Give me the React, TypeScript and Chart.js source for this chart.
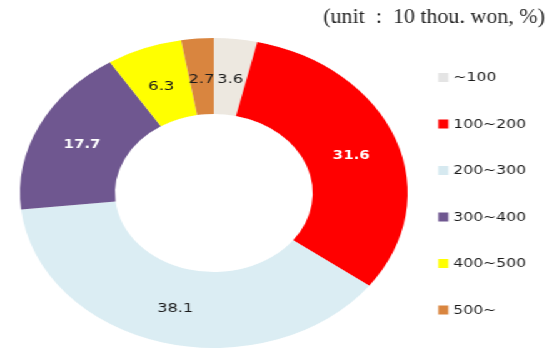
import React, { useEffect, useRef } from "react";
import { Chart, registerables } from "chart.js";

Chart.register(...registerables);

const categories = ["~100", "100~200", "200~300", "300~400", "400~500", "500~"];
const shares = [3.6, 31.6, 38.1, 17.7, 6.3, 2.7];
const sliceColors = ["#EDE8E0", "#FF0000", "#DBEDF3", "#6F5790", "#FFFF00", "#D9853F"];
const legendColors = ["#E4E4E4", "#FF0000", "#D6E9F0", "#6F5790", "#FFFF00", "#D9853F"];
const labelColors = ["#1a1a1a", "#ffffff", "#1a1a1a", "#ffffff", "#1a1a1a", "#1a1a1a"];
const labelBold = [false, true, false, true, false, false];
const unitText = "(unit  :  10 thou. won, %)";

const W = 443;
const H = 357;
const SX = 554 / W;

const overlay = {
  id: "overlay",
  afterDatasetsDraw(chart: any) {
    const ctx = chart.ctx as CanvasRenderingContext2D;
    ctx.save();
    ctx.textAlign = "center";
    ctx.textBaseline = "middle";
    const meta = chart.getDatasetMeta(0);
    meta.data.forEach((arc: any, i: number) => {
      const p = arc.tooltipPosition(false);
      ctx.font = (labelBold[i] ? "bold 12px" : "13px") + " 'DejaVu Sans'";
      ctx.fillStyle = labelColors[i];
      ctx.fillText(shares[i].toFixed(1), p.x, p.y + 3);
    });
    // legend
    ctx.textAlign = "left";
    ctx.font = "12.5px 'DejaVu Sans'";
    categories.forEach((c, i) => {
      const y = 77.5 + i * 46.5;
      ctx.fillStyle = legendColors[i];
      ctx.fillRect(350.5, y - 4.5, 8, 9);
      ctx.fillStyle = "#1a1a1a";
      ctx.fillText(c, 362.5, y + 0.5);
    });
    ctx.restore();
    // unit note (drawn without the horizontal stretch)
    ctx.save();
    ctx.scale(1 / SX, 1);
    ctx.textAlign = "right";
    ctx.textBaseline = "alphabetic";
    ctx.font = "22px 'Liberation Serif'";
    ctx.fillStyle = "#222";
    ctx.fillText(unitText, 545, 23);
    ctx.restore();
  },
};

export default function App() {
  const ref = useRef<HTMLCanvasElement>(null);
  useEffect(() => {
    document.body.style.margin = "0";
    const chart = new Chart(ref.current as HTMLCanvasElement, {
      type: "doughnut",
      data: {
        labels: categories,
        datasets: [
          {
            data: shares,
            backgroundColor: sliceColors,
            borderWidth: 0,
          },
        ],
      },
      options: {
        responsive: false,
        animation: false,
        devicePixelRatio: 1,
        cutout: "51%",
        layout: { padding: { left: 16, right: 117, top: 38, bottom: 9 } },
        plugins: {
          legend: { display: false },
          tooltip: { enabled: false },
        },
      },
      plugins: [overlay],
    });
    return () => chart.destroy();
  }, []);
  return (
    <div
      style={{
        position: "fixed",
        left: 0,
        top: 0,
        width: W,
        height: H,
        transform: `scaleX(${SX})`,
        transformOrigin: "0 0",
        background: "#fff",
      }}
    >
      <canvas ref={ref} width={W} height={H} style={{ width: W, height: H }} />
    </div>
  );
}
